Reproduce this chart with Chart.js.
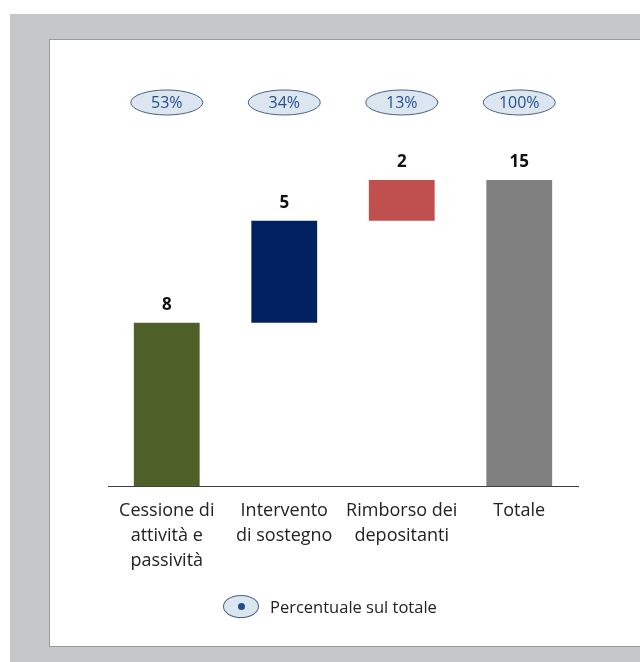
<!DOCTYPE html>
<html>
<head>
<meta charset="utf-8">
<script src="https://cdn.jsdelivr.net/npm/chart.js@4/dist/chart.umd.min.js"></script>
<style>
  html, body { margin: 0; padding: 0; background: #fff; }
  #page { position: relative; width: 640px; height: 662px; overflow: hidden; }
  #frame { position: absolute; left: 10px; top: 14px; width: 640px; height: 660px; background: #c6c7c9; }
  #panel { position: absolute; left: 49px; top: 39px; width: 600px; height: 606px; background: #fff; border: 1px solid #9a9a9a; }
  #chartBox { position: absolute; left: 0; top: 0; width: 640px; height: 662px; }
  #legend { position: absolute; left: 223px; top: 595px; display: flex; align-items: center; font-family: "Open Sans", sans-serif; font-size: 16.5px; color: #222; }
  #legend .ell { width: 34px; height: 21px; border: 1px solid #4a6080; border-radius: 50%; background: #dce6f0; position: relative; margin-right: 11px; }
  #legend .ell::after { content: ""; position: absolute; left: 14px; top: 7px; width: 7px; height: 7px; border-radius: 50%; background: #1f4e8c; }
</style>
</head>
<body>
<div id="page">
  <div id="frame"></div>
  <div id="panel"></div>
  <div id="chartBox"><canvas id="waterfall" width="640" height="662"></canvas></div>
  <div id="legend"><span class="ell"></span><span>Percentuale sul totale</span></div>
</div>
<script>
const categories = [["Cessione di", "attività e", "passività"], ["Intervento", "di sostegno"], ["Rimborso dei", "depositanti"], ["Totale"]];
const values = [8, 5, 2, 15];
const percents = ["53%", "34%", "13%", "100%"];
const barColors = ["#4e5f28", "#002060", "#c0504d", "#808080"];

// floating ranges for the waterfall
let running = 0;
const ranges = values.map((v, i) => {
  if (i === values.length - 1) return [0, v];
  const r = [running, running + v];
  running += v;
  return r;
});

const labelsPlugin = {
  id: "labelsPlugin",
  afterDatasetsDraw(chart) {
    const ctx = chart.ctx;
    const x = chart.scales.x, y = chart.scales.y;
    ctx.save();
    ranges.forEach((r, i) => {
      const cx = x.getPixelForValue(i);
      // value above bar
      ctx.fillStyle = "#111";
      ctx.font = "bold 17px 'Open Sans', sans-serif";
      ctx.textAlign = "center";
      ctx.textBaseline = "middle";
      ctx.fillText(String(values[i]), cx, y.getPixelForValue(r[1]) - 18);
      // percent ellipse
      const ey = y.getPixelForValue(18.8);
      ctx.beginPath();
      ctx.ellipse(cx, ey, 36, 12.5, 0, 0, Math.PI * 2);
      ctx.fillStyle = "#dce6f0";
      ctx.fill();
      ctx.strokeStyle = "#4a6080";
      ctx.lineWidth = 1;
      ctx.stroke();
      ctx.fillStyle = "#24508f";
      ctx.font = "16px 'Open Sans', sans-serif";
      ctx.fillText(percents[i], cx, ey + 1);
    });
    ctx.restore();
  }
};

new Chart(document.getElementById("waterfall"), {
  type: "bar",
  data: {
    labels: categories,
    datasets: [{ data: ranges, backgroundColor: barColors, borderWidth: 0, barPercentage: 1, categoryPercentage: 0.56 }]
  },
  options: {
    responsive: false,
    animation: false,
    maintainAspectRatio: false,
    layout: { padding: { left: 108, right: 62, top: 78, bottom: 0 } },
    plugins: { legend: { display: false }, tooltip: { enabled: false } },
    scales: {
      x: {
        grid: { display: false, drawTicks: false },
        border: { display: true, color: "#404040", width: 1 },
        ticks: { color: "#222", font: { family: "Open Sans", size: 18, lineHeight: 1.39 }, padding: 12, maxRotation: 0, autoSkip: false },
        afterFit(scale) { scale.height = 662 - 486; }
      },
      y: { display: false, min: 0, max: 20 }
    }
  },
  plugins: [labelsPlugin]
});
</script>
</body>
</html>
